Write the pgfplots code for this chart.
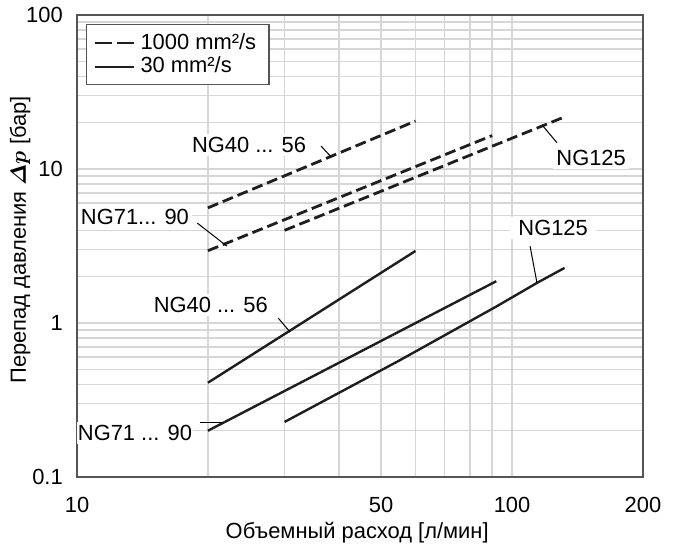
\documentclass[border=0pt,11pt]{standalone}
\usepackage{amsmath}
\usepackage{bm}
\usepackage[no-math]{fontspec}
\setmainfont{Liberation Sans}
\usepackage{pgfplots}
\pgfplotsset{compat=1.18}

\definecolor{gridgray}{HTML}{D6D6D6}
\definecolor{framegray}{HTML}{555555}
\definecolor{linecol}{HTML}{1E1E1E}

\begin{document}
\begin{tikzpicture}
\begin{axis}[
  scale only axis, width=283pt, height=231pt,
  xmode=log, ymode=log,
  xmin=10, xmax=200, ymin=0.1, ymax=100,
  xtick={10,50,100,200}, xticklabels={10,50,100,200},
  minor xtick={20,30,40,60,70,80,90},
  ytick={0.1,1,10,100}, yticklabels={0.1,1,10,100},
  minor ytick={0.2,0.3,0.4,0.5,0.6,0.7,0.8,0.9,2,3,4,5,6,7,8,9,20,30,40,50,60,70,80,90},
  grid=both,
  major grid style={draw=gridgray, line width=0.75pt},
  minor grid style={draw=gridgray, line width=0.75pt},
  major tick length=0pt, minor tick length=0pt,
  axis line style={draw=framegray, line width=0.8pt},
  xticklabel style={yshift=-6pt},
  yticklabel style={xshift=-3.3pt},
  /pgf/number format/assume math mode=true,
  xlabel={Объемный расход [л/мин]},
  ylabel={Перепад давления $\boldsymbol{\varDelta p}$ [бар]},
  xlabel style={at={(axis description cs:0.495,-0.121)}, anchor=center, inner sep=0pt},
  ylabel style={at={(axis description cs:-0.1007,0.513)}, anchor=center, inner sep=0pt},
  legend image code/.code={\draw[#1] (-1pt,0pt) -- (18.5pt,0pt);},
  legend cell align=left,
  legend style={at={(0,1)}, anchor=north west, xshift=4.5pt, yshift=-4.5pt,
    draw=framegray, line width=0.7pt, fill=white, inner xsep=3.5pt, inner ysep=3pt, row sep=0pt,
    nodes={inner ysep=1.2pt, inner xsep=3pt}},
]
% 1000 mm2/s (dashed)
\addplot[forget plot, linecol, line width=1.4pt, dash pattern=on 5.5pt off 2.5pt] coordinates {(20,5.6) (60,20.5)};
\addplot[forget plot, linecol, line width=1.4pt, dash pattern=on 5.5pt off 2.5pt] coordinates {(20,2.95) (90,16.5)};
\addplot[forget plot, linecol, line width=1.4pt, dash pattern=on 5.5pt off 2.5pt] coordinates {(30,4.0) (132,21.8)};
% 30 mm2/s (solid)
\addplot[forget plot, linecol, line width=1.2pt] coordinates {(20,0.41) (60,2.94)};
\addplot[forget plot, linecol, line width=1.2pt] coordinates {(20,0.2) (92,1.87)};
\addplot[forget plot, linecol, line width=1.2pt] coordinates {(30,0.228) (55,0.57) (92,1.28) (114,1.82) (132,2.28)};

\addlegendimage{linecol, line width=0.9pt, dash pattern=on 8.5pt off 2.5pt}
\addlegendentry{1000 mm²/s\hspace{4pt}}
\addlegendimage{linecol, line width=0.9pt}
\addlegendentry{30 mm²/s}

% annotations
\node[fill=white, inner sep=1.5pt] at (axis cs:24.86,14.3) {NG40 ... 56};
\draw[line width=0.5pt] (axis cs:36.4,14.1) -- (axis cs:38.4,11.97);
\node[fill=white, inner sep=1.5pt] at (axis cs:13.59,4.88) {NG71... 90};
\draw[line width=0.5pt] (axis cs:18.9,4.46) -- (axis cs:22.1,3.16);
\node[fill=white, inner sep=1.5pt] at (axis cs:152,11.8) {NG125};
\draw[line width=0.5pt] (axis cs:117.8,19.0) -- (axis cs:126.9,14.8);
\node[fill=white, inner xsep=4pt, inner ysep=1.5pt] at (axis cs:124.3,4.14) {NG125};
\draw[line width=0.5pt] (axis cs:110,3.16) -- (axis cs:114,1.845);
\node[fill=white, inner sep=1.5pt] at (axis cs:20.3,1.309) {NG40 ... 56};
\draw[line width=0.5pt] (axis cs:29.0,1.078) -- (axis cs:30.9,0.874);
\node[fill=white, inner xsep=0.5pt, inner ysep=1.5pt] at (axis cs:13.59,0.193) {NG71 ... 90};
\draw[line width=0.5pt] (axis cs:19.2,0.2245) -- (axis cs:21.5,0.2245);
\end{axis}
\path (current axis.south west) ++(-38.5pt,-34pt) rectangle ++(337.5pt,272.5pt);
\end{tikzpicture}
\end{document}
